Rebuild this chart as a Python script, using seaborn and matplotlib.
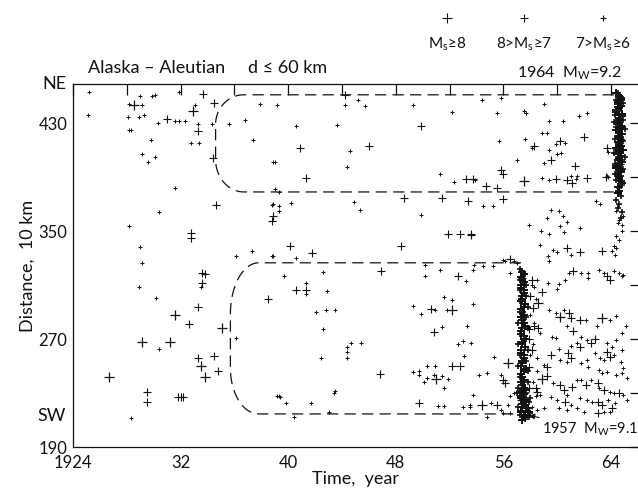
import numpy as np
import pandas as pd
import matplotlib
matplotlib.use('Agg')
import matplotlib.pyplot as plt
import seaborn as sns

# Event catalogue: (year, distance in 10 km)
# Ms >= 8
big_year = [1928.5, 1932.9, 1931.6, 1935.1, 1929.1, 1931.2, 1933.5, 1933.8, 1926.7,
            1952.2, 1951.0, 1957.5, 1958.6, 1960.2, 1963.3, 1956.3, 1958.9, 1954.4,
            1957.4, 1964.6]
big_dist = [443.7, 439.3, 287.9, 278.0, 267.6, 267.6, 250.1, 241.7, 242.2,
            291.3, 240.2, 387.1, 296.4, 286.2, 285.7, 252.0, 240.5, 221.2,
            225.0, 400.0]

# 8 > Ms >= 7
mid_year = [1933.7, 1934.5, 1931.0, 1933.3, 1934.4, 1934.6, 1932.8, 1932.8, 1933.6, 1933.8,
            1933.6, 1933.3, 1932.6, 1934.5, 1933.3, 1934.8, 1929.5, 1929.5, 1931.8, 1932.0,
            1932.2, 1938.5, 1938.9, 1938.8,
            1944.2, 1949.9, 1940.9, 1946.0, 1941.3, 1953.2, 1953.7, 1948.6, 1951.4, 1953.4,
            1951.9, 1952.8, 1953.6, 1940.1, 1941.8, 1948.4, 1946.9, 1952.6, 1940.6, 1941.3,
            1950.6, 1950.8, 1946.8, 1952.2, 1952.8, 1949.7,
            1962.0, 1958.3, 1960.2, 1959.5, 1961.3, 1963.7, 1955.8, 1956.0, 1954.7, 1955.5,
            1959.9, 1960.7, 1961.1, 1962.2, 1963.6, 1956.0, 1953.6, 1960.7, 1961.7, 1963.3,
            1956.5, 1961.2, 1963.7, 1963.95, 1958.1, 1958.9, 1957.4, 1960.9, 1961.0, 1961.7,
            1961.2, 1957.9, 1958.3, 1958.6, 1962.5, 1962.8, 1961.7, 1959.5, 1960.8, 1961.0,
            1963.7, 1963.95, 1959.2, 1957.9, 1956.0, 1956.1, 1959.2, 1958.4, 1958.5, 1960.2,
            1960.5, 1961.1, 1962.1, 1963.0, 1963.5, 1964.6, 1957.9, 1960.6, 1963.0, 1963.3,
            1964.1, 1963.0, 1955.5, 1958.0, 1958.2, 1957.9, 1958.1]
mid_dist = [451.9, 444.9, 433.1, 423.9, 404.1, 369.0, 348.5, 344.8, 319.3, 318.3,
            311.4, 294.1, 281.0, 257.5, 255.8, 246.6, 231.0, 223.6, 227.3, 227.3,
            227.3, 299.8, 361.4, 357.2,
            451.1, 428.1, 411.5, 413.3, 389.3, 388.6, 388.6, 374.3, 374.3, 372.3,
            347.8, 347.8, 347.8, 338.6, 333.7, 339.1, 320.6, 316.4, 306.2, 306.2,
            292.0, 275.5, 244.2, 249.9, 249.9, 222.4,
            419.7, 412.8, 416.5, 402.4, 398.5, 411.6, 395.5, 392.5, 383.1, 381.9,
            388.6, 388.1, 385.6, 389.3, 390.0, 373.7, 347.3, 337.4, 334.2, 334.9,
            329.2, 320.1, 316.4, 313.9, 313.9, 305.2, 315.1, 289.2, 285.4, 284.2,
            275.6, 277.3, 279.3, 278.0, 266.9, 269.9, 264.4, 258.2, 259.5, 255.8,
            260.7, 257.0, 249.6, 249.6, 239.7, 237.2, 242.7, 233.5, 231.0, 236.0,
            232.3, 234.8, 236.0, 237.2, 232.3, 229.8, 233.5, 223.6, 223.6, 221.2,
            218.7, 215.0, 221.2, 302.0, 293.0, 270.0, 262.0]

# 7 > Ms >= 6
small_year = [1925.2, 1929.0, 1929.9, 1930.1, 1931.9, 1928.2, 1929.1, 1933.1, 1925.1, 1928.1,
              1928.9, 1929.3, 1931.6, 1931.9, 1932.3, 1930.3, 1933.3, 1934.3, 1928.2, 1928.3,
              1929.8, 1932.8, 1933.4, 1929.1, 1930.1, 1929.6, 1931.6, 1930.4, 1928.2, 1929.0,
              1929.1, 1933.5, 1928.9, 1930.2, 1930.4, 1928.3, 1938.9, 1939.0, 1939.3, 1938.8,
              1939.3, 1936.1, 1937.3, 1938.8, 1936.1, 1939.3, 1935.6, 1936.8, 1937.9, 1937.4,
              1939.2, 1944.2, 1945.2, 1945.7, 1949.3, 1952.2, 1940.6, 1943.6, 1944.6, 1939.0,
              1944.4, 1951.3, 1952.3, 1940.2, 1944.9, 1945.3, 1949.9, 1939.3, 1938.9, 1938.9,
              1940.6, 1939.7, 1942.6, 1950.2, 1951.3, 1950.2, 1953.7, 1953.2, 1941.3, 1941.3,
              1942.9, 1951.6, 1952.2, 1953.7, 1949.3, 1950.9, 1951.8, 1949.9, 1942.1, 1942.8,
              1943.5, 1942.6, 1951.4, 1953.3, 1952.6, 1953.0, 1953.6, 1944.7, 1945.4, 1944.4,
              1944.4, 1944.4, 1942.4, 1953.1, 1950.3, 1950.9, 1949.3, 1949.7, 1949.7, 1951.4,
              1950.3, 1950.1, 1950.8, 1951.9, 1951.6, 1943.5, 1943.4, 1939.2, 1939.4, 1939.8,
              1941.7, 1951.1, 1951.6, 1953.7, 1953.0, 1953.5, 1940.4, 1943.0,
              1954.4, 1955.8, 1959.0, 1955.5, 1957.5, 1957.7, 1962.2, 1961.6, 1959.4, 1960.4,
              1958.9, 1959.2, 1958.1, 1955.7, 1957.6, 1959.9, 1960.6, 1959.4, 1960.0, 1960.3,
              1963.75, 1957.0, 1959.0, 1953.9, 1961.0, 1961.4, 1961.5, 1963.7, 1963.8, 1958.9,
              1959.4, 1954.5, 1955.2, 1962.9, 1963.2, 1959.5, 1960.1, 1960.4, 1959.2, 1960.7,
              1961.7, 1960.2, 1964.8, 1964.9, 1964.8, 1964.5, 1957.9, 1958.8, 1959.4, 1960.5,
              1959.7, 1960.0, 1958.7, 1959.3, 1959.4, 1961.0, 1964.1, 1964.3, 1964.4, 1956.0,
              1956.8, 1957.0, 1955.2, 1956.1, 1953.8, 1954.5, 1960.9, 1961.8, 1962.3, 1962.3,
              1963.1, 1963.5, 1964.2, 1964.6, 1964.8, 1964.9, 1960.6, 1960.1, 1959.3, 1960.0,
              1958.5, 1958.3, 1956.5, 1957.3, 1959.4, 1959.9, 1960.5, 1962.1, 1962.96, 1963.95,
              1964.4, 1965.1, 1960.7, 1958.7, 1959.6, 1959.9, 1961.8, 1962.2, 1961.5, 1963.7,
              1964.1, 1964.4, 1964.8, 1964.8, 1960.1, 1960.2, 1960.7, 1961.0, 1961.8, 1962.2,
              1962.3, 1962.8, 1963.2, 1963.5, 1964.2, 1964.7, 1964.9, 1958.5, 1959.0, 1963.1,
              1963.3, 1963.7, 1964.4, 1964.8, 1965.2, 1955.8, 1954.2, 1954.8, 1955.3, 1958.7,
              1959.7, 1960.7, 1961.5, 1961.8, 1962.5, 1963.1, 1963.95, 1964.2, 1964.9, 1956.8,
              1956.5, 1959.5, 1960.0, 1961.0, 1961.7, 1962.2, 1962.6, 1963.8, 1964.3, 1965.2,
              1958.5, 1959.0, 1960.1, 1960.7, 1961.5, 1961.96, 1963.5, 1963.95, 1953.5, 1955.1,
              1955.8, 1956.0, 1956.5, 1956.3, 1954.8, 1964.4, 1964.6, 1964.4, 1964.6, 1964.2,
              1958.1, 1958.4, 1958.0, 1958.3, 1958.2, 1958.0, 1958.5, 1958.2, 1958.4, 1958.1]
small_dist = [452.9, 449.9, 450.4, 451.1, 452.9, 444.5, 443.7, 443.7, 436.3, 434.3,
              434.6, 436.3, 431.8, 431.8, 431.8, 430.1, 429.4, 429.4, 425.2, 425.2,
              417.7, 415.3, 415.3, 407.1, 404.9, 401.4, 381.9, 363.8, 353.5, 338.1,
              326.2, 308.4, 308.9, 300.3, 262.5, 211.3, 401.2, 381.4, 379.3, 369.5,
              365.2, 331.2, 335.4, 331.2, 270.6, 227.8, 429.4, 432.1, 444.5, 417.3,
              443.7, 443.7, 447.4, 442.5, 443.7, 438.0, 428.1, 428.8, 409.1, 400.9,
              397.5, 392.3, 386.1, 371.1, 371.6, 365.7, 361.7, 368.5, 370.1, 331.2,
              330.4, 316.9, 319.4, 325.0, 320.9, 316.9, 321.4, 313.0, 311.9, 303.7,
              305.5, 301.5, 299.3, 295.8, 294.5, 291.3, 291.3, 288.8, 290.0, 291.8,
              291.8, 277.2, 278.7, 279.8, 266.4, 268.2, 266.9, 266.9, 266.9, 264.4,
              260.7, 256.3, 256.3, 257.5, 250.1, 250.1, 245.7, 246.4, 243.2, 242.7,
              241.2, 238.0, 243.7, 240.2, 233.5, 231.8, 230.3, 227.8, 227.3, 222.4,
              222.9, 220.4, 220.4, 228.6, 219.5, 219.5, 212.5, 215.7,
              447.4, 448.7, 444.5, 437.5, 438.8, 437.5, 437.5, 435.5, 431.3, 431.3,
              422.7, 422.7, 411.6, 416.5, 418.2, 414.8, 415.3, 410.3, 407.4, 407.9,
              408.3, 402.9, 400.4, 388.1, 390.5, 388.6, 391.0, 391.0, 390.0, 389.3,
              388.1, 368.8, 368.8, 372.0, 370.3, 365.3, 364.6, 360.9, 359.6, 356.9,
              352.2, 353.9, 354.7, 360.9, 349.7, 355.9, 354.7, 349.7, 348.0, 349.0,
              336.1, 334.7, 339.9, 331.9, 327.5, 332.4, 335.6, 332.4, 337.4, 328.7,
              327.5, 326.7, 323.8, 327.5, 325.0, 324.3, 318.8, 319.3, 319.3, 315.1,
              320.8, 318.8, 320.1, 319.3, 316.4, 317.6, 313.9, 310.9, 311.9, 307.0,
              313.9, 308.4, 318.8, 321.3, 291.6, 289.2, 291.6, 284.2, 279.3, 284.2,
              287.2, 279.3, 279.3, 274.3, 271.4, 270.6, 271.8, 269.4, 266.9, 266.9,
              264.4, 269.4, 274.3, 262.0, 262.5, 254.5, 253.3, 264.9, 252.1, 254.5,
              249.6, 259.5, 255.8, 254.5, 258.2, 253.3, 248.4, 255.8, 250.8, 247.1,
              244.6, 245.9, 243.4, 244.6, 240.9, 243.4, 243.4, 244.6, 257.0, 228.6,
              237.2, 228.6, 239.7, 239.7, 239.7, 233.5, 231.0, 229.8, 228.6, 229.8,
              227.8, 227.3, 224.9, 221.2, 226.1, 224.9, 223.6, 224.9, 222.4, 224.9,
              217.4, 218.7, 218.7, 217.4, 218.7, 216.2, 216.2, 216.2, 221.2, 222.9,
              217.4, 215.0, 215.0, 221.2, 212.5, 364.6, 358.4, 346.0, 343.6, 338.6,
              310.0, 300.0, 288.0, 282.0, 266.0, 258.0, 246.0, 238.0, 228.0, 220.0]

# Dense aftershock columns of the two great earthquakes
after1964_year = [1964.6, 1964.5, 1964.7, 1964.4, 1964.8, 1964.6, 1964.5, 1964.7, 1964.4, 1964.8,
                  1964.6, 1964.5, 1964.7, 1964.9, 1964.5, 1964.6, 1964.8, 1964.4, 1964.7, 1964.5,
                  1964.6, 1964.8, 1964.5, 1964.6, 1964.7, 1964.5, 1964.6, 1964.4, 1964.8, 1964.6,
                  1964.5, 1964.7, 1964.6, 1964.5, 1964.7, 1964.6, 1964.4, 1964.6, 1964.7, 1964.5,
                  1964.6, 1964.5, 1964.7, 1964.6, 1964.4, 1964.7, 1964.5, 1964.6, 1964.8, 1964.5,
                  1964.6, 1964.4, 1964.7, 1964.5]
after1964_dist = [450, 446, 443, 440, 437, 434, 431, 428, 425, 422,
                  419, 416, 413, 410, 407, 404, 401, 398, 395, 392,
                  389, 386, 383, 380, 448.5, 444.5, 441.5, 438.5, 435.5, 432.5,
                  429.5, 426.5, 423.5, 420.5, 417.5, 414.5, 411.5, 408.5, 405.5, 402.5,
                  399.5, 396.5, 393.5, 390.5, 452, 447, 442, 436, 427, 418,
                  409, 397, 387, 378]
after1964_small_year = [1964.5, 1964.7, 1964.4, 1964.9, 1964.6, 1964.5, 1964.3, 1964.7, 1964.9, 1964.6,
                        1964.4, 1964.8, 1964.5, 1964.7, 1964.3, 1964.9, 1964.6, 1964.4, 1964.7, 1964.5,
                        1964.8, 1964.3, 1964.6, 1964.9, 1964.5, 1964.7, 1964.4, 1964.8, 1964.6, 1964.5,
                        1964.7, 1964.4, 1964.6, 1964.5, 1964.8, 1964.7, 1965.0, 1965.0, 1964.2, 1964.2,
                        1964.3]
after1964_small_dist = [452, 449, 447, 445, 442, 439, 436, 435, 432, 430,
                        427, 426, 423, 420, 418, 417, 414, 411, 409, 405,
                        403, 400, 399, 396, 394, 391, 388, 384, 382, 378,
                        376, 373, 370, 367, 364, 360, 426, 405, 431, 408,
                        392]
after1957_year = [1957.4, 1957.3, 1957.5, 1957.3, 1957.5, 1957.4, 1957.6, 1957.3, 1957.5, 1957.4,
                  1957.6, 1957.3, 1957.5, 1957.4, 1957.6, 1957.3, 1957.5, 1957.4, 1957.7, 1957.3,
                  1957.5, 1957.4, 1957.6, 1957.3, 1957.5, 1957.4, 1957.7, 1957.3, 1957.5, 1957.4,
                  1957.5, 1957.4, 1957.3, 1957.5, 1957.4, 1957.3, 1957.5, 1957.4, 1957.3, 1957.5,
                  1957.4, 1957.3, 1957.5, 1957.4, 1957.3, 1957.5, 1957.4, 1957.3, 1957.5, 1957.4,
                  1957.3, 1957.5, 1957.4, 1957.3, 1957.5, 1957.4, 1957.3, 1957.6, 1957.8, 1957.7,
                  1957.5, 1957.9, 1957.6, 1957.2]
after1957_dist = [320, 316, 312, 308, 304, 300, 296, 292, 288, 284,
                  280, 276, 272, 268, 264, 260, 256, 252, 248, 244,
                  240, 236, 232, 228, 225, 222, 219, 216, 213, 210,
                  318, 314, 310, 306, 302, 298, 294, 290, 286, 282,
                  278, 274, 270, 266, 262, 258, 254, 250, 246, 242,
                  238, 234, 230, 226, 223, 220, 217, 214, 219, 225,
                  229, 216, 212, 231]
after1957_small_year = [1957.2, 1957.6, 1957.2, 1957.7, 1957.2, 1957.7, 1957.2, 1957.8, 1957.2, 1957.7,
                        1957.1, 1957.8, 1957.2, 1957.7, 1957.1, 1957.8, 1957.2, 1957.7, 1957.1, 1957.8,
                        1957.2, 1957.8, 1957.1, 1957.7, 1957.2, 1957.9, 1957.1, 1957.8, 1957.2, 1957.6,
                        1957.9, 1958.0, 1957.0, 1958.0]
after1957_small_dist = [322, 318, 314, 310, 306, 302, 298, 294, 290, 286,
                        282, 278, 274, 270, 266, 262, 258, 254, 250, 246,
                        242, 238, 234, 230, 226, 223, 220, 217, 214, 211,
                        212, 215, 230, 226]

# Outlined rupture zones: (start year, end year, low distance, high distance)
upper_zone = (1934.6, 1964.2, 379.0, 451.0)
lower_zone = (1935.7, 1957.3, 214.5, 326.5)

x_ticks = [1924, 1928, 1932, 1936, 1940, 1944, 1948, 1952, 1956, 1960, 1964]
x_labels = ['1924', '', '32', '', '40', '', '48', '', '56', '', '64']
y_ticks = [190, 230, 270, 310, 350, 390, 430]
y_labels = ['190', '', '270', '', '350', '', '430']

sns.set_style('white')
plt.rcParams['font.family'] = ['Lato', 'DejaVu Sans']
plt.rcParams['mathtext.default'] = 'regular'
INK = '#111111'

fig = plt.figure(figsize=(6.38, 4.9), dpi=100)
ax = fig.add_axes([73 / 638, 1 - 447 / 490, 565 / 638, 363 / 490])

sets = [
    (small_year, small_dist, 9, 0.7),
    (after1964_small_year, after1964_small_dist, 14, 1.2),
    (after1957_small_year, after1957_small_dist, 14, 1.2),
    (mid_year, mid_dist, 28, 0.8),
    (after1964_year, after1964_dist, 30, 1.4),
    (after1957_year, after1957_dist, 30, 1.4),
    (big_year, big_dist, 60, 0.9),
]
for yrs, dist, size, lw in sets:
    df = pd.DataFrame({'year': yrs, 'dist': dist})
    sns.scatterplot(data=df, x='year', y='dist', marker='+', s=size,
                    color=INK, linewidth=lw, ax=ax, legend=False, zorder=3)


def zone_outline(x0, x1, y0, y1, rx, ry_top, ry_bot):
    t = np.linspace(0, np.pi / 2, 20)
    top_corner_x = x0 + rx - rx * np.sin(t)
    top_corner_y = y1 - ry_top + ry_top * np.cos(t)
    bot_corner_x = x0 + rx - rx * np.cos(t)
    bot_corner_y = y0 + ry_bot - ry_bot * np.sin(t)
    xs = np.concatenate([[x1], top_corner_x, bot_corner_x, [x1]])
    ys = np.concatenate([[y1], top_corner_y, bot_corner_y, [y0]])
    return xs, ys


for (x0, x1, y0, y1), rx, ryt, ryb in [(upper_zone, 2.1, 22, 24), (lower_zone, 2.1, 38, 34)]:
    xs, ys = zone_outline(x0, x1, y0, y1, rx, ryt, ryb)
    ax.plot(xs, ys, color=INK, lw=0.9, ls=(0, (9, 5)), zorder=2)

ax.set_xlim(1924, 1966.0)
ax.set_ylim(190, 459)
ax.set_xticks(x_ticks)
ax.set_xticklabels(x_labels)
ax.set_yticks(y_ticks)
ax.set_yticklabels(y_labels)
ax.tick_params(axis='x', direction='in', length=8, width=0.9, top=True,
               labelsize=12, colors=INK, pad=6)
ax.tick_params(axis='y', direction='in', length=6, width=0.9, right=True,
               labelsize=12, colors=INK, pad=4)
for side in ['left', 'bottom', 'top']:
    ax.spines[side].set_color(INK)
    ax.spines[side].set_linewidth(0.9)
ax.spines['right'].set_visible(False)

ax.set_xlabel('Time,  year', fontsize=13, color=INK, labelpad=0)
ax.set_ylabel('Distance,  10 km', fontsize=13, color=INK, labelpad=2)

ax.text(-0.012, 1.0, 'NE', transform=ax.transAxes, ha='right', va='center',
        fontsize=13, color=INK)
ax.text(-0.012, 0.085, 'SW', transform=ax.transAxes, ha='right', va='center',
        fontsize=13, color=INK)

ax.annotate('1957  $M_W$=9.1', xy=(1957.9, 213.5), xytext=(1958.9, 203),
            fontsize=10.5, color=INK, va='center', ha='left',
            arrowprops=dict(arrowstyle='-|>', color=INK, lw=0.8,
                            mutation_scale=8, shrinkA=0, shrinkB=0))

fig.text(88 / 638, 1 - 68 / 490, 'Alaska – Aleutian', fontsize=13, color=INK,
         va='center', ha='left')
fig.text(248 / 638, 1 - 68 / 490, 'd ≤ 60 km', fontsize=13, color=INK,
         va='center', ha='left')
fig.text(517 / 638, 1 - 73 / 490, '1964  $M_W$=9.2', fontsize=11.5, color=INK,
         va='center', ha='left')

# legend row at the top
leg = fig.add_axes([0, 1 - 60 / 490, 1, 60 / 490])
leg.set_xlim(0, 638)
leg.set_ylim(60, 0)
leg.axis('off')
leg_items = [(447, 60, '$M_s$≥8'), (524, 36, '8>$M_s$≥7'), (603, 16, '7>$M_s$≥6')]
for xpos, size, label in leg_items:
    leg.scatter([xpos], [18], marker='+', s=size, color=INK, linewidths=0.8)
    leg.text(xpos, 44, label, ha='center', va='center', fontsize=11, color=INK)

fig.savefig('out.png', dpi=100, facecolor='white')
